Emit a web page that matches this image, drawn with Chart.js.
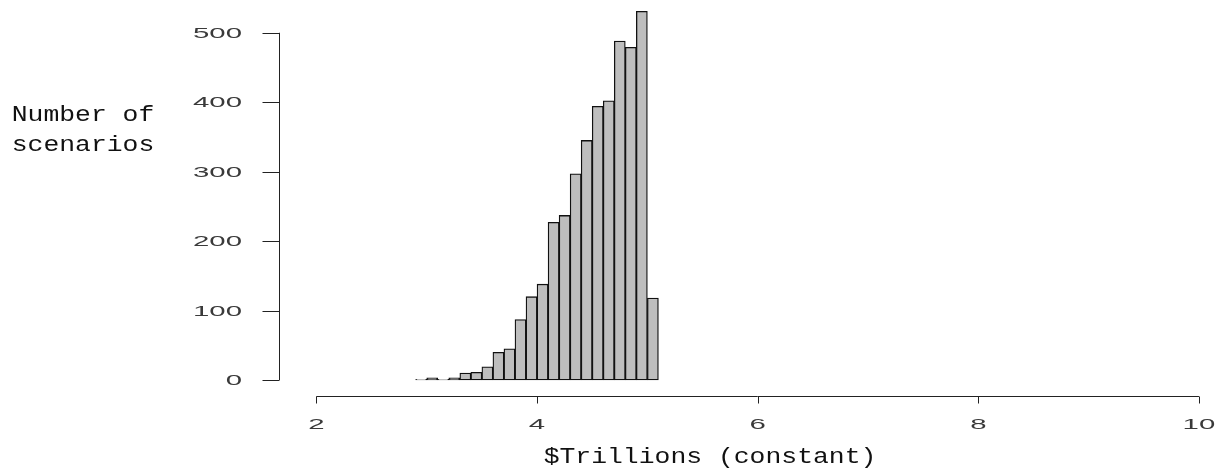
<!DOCTYPE html>
<html>
<head>
<meta charset="utf-8">
<script src="https://cdn.jsdelivr.net/npm/chart.js@4/dist/chart.umd.min.js"></script>
<style>
  html, body { margin: 0; padding: 0; background: #ffffff; }
  #wrap { position: relative; width: 1221px; height: 471px; }
</style>
</head>
<body>
<div id="wrap"><canvas id="hist"></canvas></div>
<script>
// Histogram bins (midpoints, width 0.1) and their scenario counts
const binMids = [2.95, 3.05, 3.15, 3.25, 3.35, 3.45, 3.55, 3.65, 3.75, 3.85, 3.95,
                 4.05, 4.15, 4.25, 4.35, 4.45, 4.55, 4.65, 4.75, 4.85, 4.95, 5.05];
const counts  = [1, 3, 1, 3, 10, 11, 19, 40, 45, 87, 120,
                 138, 227, 237, 297, 345, 394, 402, 488, 479, 531, 118];

const xTicks = [2, 4, 6, 8, 10];
const yTicks = [0, 100, 200, 300, 400, 500];
const xTitle = '$Trillions (constant)';
const yTitle = ['Number of', 'scenarios'];

// Draw text with a horizontal stretch factor
function stretchedText(ctx, text, x, y, align, sx) {
  ctx.save();
  ctx.translate(x, y);
  ctx.scale(sx, 1);
  ctx.textAlign = align;
  ctx.textBaseline = 'alphabetic';
  ctx.fillText(text, 0, 0);
  ctx.restore();
}

// Base-graphics style axes: detached lines spanning only the tick range
const baseAxes = {
  id: 'baseAxes',
  afterDraw(chart) {
    const ctx = chart.ctx;
    const xs = chart.scales.x, ys = chart.scales.y;
    const area = chart.chartArea;
    ctx.save();
    ctx.strokeStyle = '#222';
    ctx.lineWidth = 1;

    // x axis
    const xAxisY = Math.round(area.bottom) + 0.5;
    const x0 = xs.getPixelForValue(xTicks[0]);
    const x1 = xs.getPixelForValue(xTicks[xTicks.length - 1]);
    ctx.beginPath();
    ctx.moveTo(x0, xAxisY);
    ctx.lineTo(x1, xAxisY);
    xTicks.forEach(v => {
      const px = Math.round(xs.getPixelForValue(v)) + 0.5;
      ctx.moveTo(px, xAxisY);
      ctx.lineTo(px, xAxisY + 7);
    });
    ctx.stroke();
    ctx.fillStyle = '#3a3a3a';
    ctx.font = '14px "Liberation Sans", Arial, sans-serif';
    xTicks.forEach(v => {
      stretchedText(ctx, String(v), xs.getPixelForValue(v), 429, 'center', 2.1);
    });

    // y axis
    const yAxisX = Math.round(area.left) - 0.5;
    const y0 = ys.getPixelForValue(yTicks[0]);
    const y1 = ys.getPixelForValue(yTicks[yTicks.length - 1]);
    ctx.beginPath();
    ctx.moveTo(yAxisX, y0);
    ctx.lineTo(yAxisX, y1);
    yTicks.forEach(v => {
      const py = Math.round(ys.getPixelForValue(v)) + 0.5;
      ctx.moveTo(yAxisX, py);
      ctx.lineTo(yAxisX - 17, py);
    });
    ctx.stroke();
    yTicks.forEach(v => {
      stretchedText(ctx, String(v), 242, ys.getPixelForValue(v) + 5, 'right', 2.1);
    });

    // axis titles
    ctx.fillStyle = '#111';
    ctx.font = '22px "Liberation Mono", "Courier New", monospace';
    stretchedText(ctx, xTitle, 710, 462.5, 'center', 1.2);
    stretchedText(ctx, yTitle[0], 83, 120.5, 'center', 1.2);
    stretchedText(ctx, yTitle[1], 83, 150.5, 'center', 1.2);
    ctx.restore();
  }
};

new Chart(document.getElementById('hist'), {
  type: 'bar',
  data: {
    datasets: [{
      data: binMids.map((m, i) => ({ x: m, y: counts[i] })),
      backgroundColor: '#bebebe',
      borderColor: '#111111',
      borderWidth: 1.3,
      borderSkipped: false,
      barPercentage: 1,
      categoryPercentage: 1
    }]
  },
  options: {
    responsive: true,
    maintainAspectRatio: false,
    animation: false,
    layout: { padding: { left: 280, right: 11, top: 5, bottom: 75 } },
    plugins: { legend: { display: false }, tooltip: { enabled: false } },
    scales: {
      x: { type: 'linear', min: 1.67, max: 10.1, offset: false, display: false },
      y: { type: 'linear', min: -23, max: 540, display: false }
    }
  },
  plugins: [baseAxes]
});
</script>
</body>
</html>
